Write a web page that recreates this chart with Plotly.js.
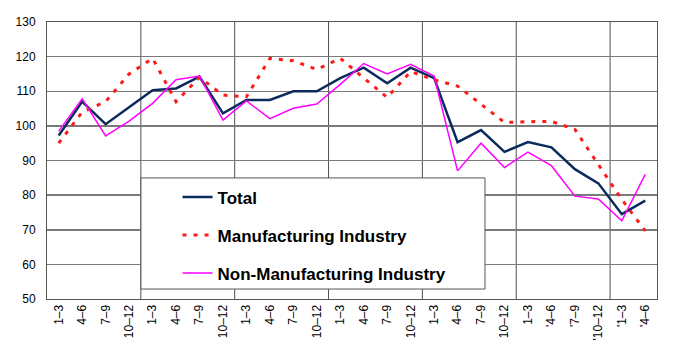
<!DOCTYPE html>
<html>
<head>
<meta charset="utf-8">
<script src="https://cdn.plot.ly/plotly-3.0.1.min.js"></script>
<style>html,body{margin:0;padding:0;background:#fff;}#chart{width:680px;height:361px;}</style>
</head>
<body>
<div id="chart"></div>
<script>
const labels = ['1–3','4–6','7–9','10–12','1–3','4–6','7–9','10–12','1–3','4–6','7–9','10–12',
  '1–3','4–6','7–9','10–12','1–3','4–6','7–9','10–12','1–3',"'4–6","'7–9","'10–12","'1–3","'4–6"];
const total = [97.2,107,100.5,105.5,110.3,110.8,114.2,103.6,107.5,107.5,110,110,113.8,116.8,112.3,116.8,113.8,95.3,98.8,92.5,95.3,93.8,87.5,83.4,74.5,78.4];
const manufacturing = [95,104,107,115,119.5,107,114,108.9,108.4,119.5,118.8,116.3,119.5,113.8,108.2,115.7,113.3,111.5,106.2,101,101.2,101.3,99,89,78.7,69.7];
const nonManufacturing = [98.5,107.8,97.1,101.4,106.5,113.3,114.4,101.7,107.2,102.1,105.1,106.3,112,118,115,117.8,114.4,87,95,88,92.4,88.5,79.7,78.9,72.6,86];
const seriesNames = ['Total','Manufacturing Industry','Non-Manufacturing Industry'];

const idx = labels.map((_, i) => i);

const traces = [
  {x: idx, y: total, name: seriesNames[0], mode: 'lines', legendgroup: 'a',
   line: {color: '#0b2b5c', width: 2.5}},
  {x: idx, y: manufacturing, name: seriesNames[1], mode: 'lines', legendgroup: 'b',
   line: {color: '#ff1a1a', width: 3, dash: '4px,7px'}},
  {x: idx, y: nonManufacturing, name: seriesNames[2], mode: 'lines', legendgroup: 'c',
   line: {color: '#ff00ff', width: 1.5}}
];

const shapes = [];
idx.forEach(i => {
  if (i > 0 && i % 4 === 0) {
    shapes.push({type: 'line', xref: 'x', yref: 'paper', x0: i - 0.5, x1: i - 0.5, y0: 0, y1: 1,
      line: {color: '#505050', width: 1}, layer: 'below'});
  }
});
shapes.push({type: 'rect', xref: 'paper', yref: 'paper', x0: 0.154, x1: 0.718, y0: 0.036, y1: 0.437,
  fillcolor: '#ffffff', line: {color: '#555555', width: 1}, layer: 'above'});

const layout = {
  width: 680, height: 361,
  margin: {l: 47, r: 23, t: 22, b: 62},
  paper_bgcolor: '#ffffff', plot_bgcolor: '#ffffff',
  font: {family: '"Liberation Sans", Arial, sans-serif', color: '#000', size: 12},
  showlegend: true,
  legend: {x: 0.214, y: 0.432, xanchor: 'left', yanchor: 'top', bgcolor: 'rgba(0,0,0,0)',
    borderwidth: 0, tracegroupgap: 13, font: {size: 17, weight: 'bold', color: '#000'}},
  xaxis: {range: [-0.5, labels.length - 0.5], tickvals: idx, ticktext: labels, tickangle: -90,
    showgrid: false, zeroline: false, showline: true, mirror: true, linecolor: '#555555', linewidth: 1,
    ticks: '', tickfont: {size: 12}, fixedrange: true},
  yaxis: {range: [50, 130], dtick: 10, showgrid: true, gridcolor: '#7a7a7a', gridwidth: 1.5,
    zeroline: false, showline: true, mirror: true, linecolor: '#555555', linewidth: 1,
    ticks: '', ticklabelstandoff: 8, tickfont: {size: 12}, fixedrange: true},
  shapes: shapes
};

Plotly.newPlot('chart', traces, layout, {displayModeBar: false, staticPlot: true});
</script>
</body>
</html>
